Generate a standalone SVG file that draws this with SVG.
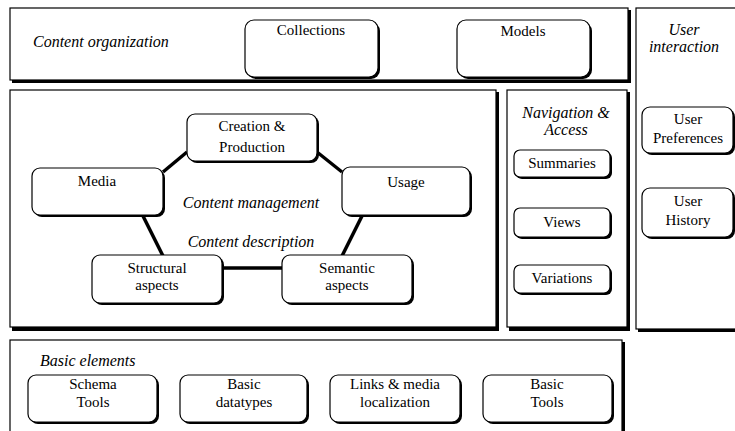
<svg xmlns="http://www.w3.org/2000/svg" width="735" height="431" viewBox="0 0 735 431">
<style>
.panel{fill:#fff;stroke:#000;stroke-width:1.2}
.psh{fill:#000}
.node{fill:#fff;stroke:#000;stroke-width:1.2}
.sh{fill:#000}
text{font-family:"Liberation Serif","Times New Roman",serif;font-size:15px;fill:#000;text-anchor:middle}
.it{font-style:italic;font-size:16px}
.lt{text-anchor:start}
.conn line{stroke:#000;stroke-width:3.5}
</style>
<rect width="735" height="431" fill="#fff"/>
<!-- panels -->
<g id="panel-organization">
<rect class="psh" x="12" y="10" width="619" height="73"/>
<rect class="panel" x="10" y="8" width="618" height="72"/>
<text class="it lt" x="33" y="47">Content organization</text>
</g>
<g id="panel-user">
<rect class="psh" x="638" y="10" width="100" height="322"/>
<rect class="panel" x="636" y="8" width="102" height="321"/>
<text class="it" x="684" y="35">User</text>
<text class="it" x="684" y="52">interaction</text>
</g>
<g id="panel-management">
<rect class="psh" x="12" y="92" width="487" height="239"/>
<rect class="panel" x="10" y="90" width="486" height="237"/>
<text class="it" x="251" y="208">Content management</text>
<text class="it" x="251" y="247">Content description</text>
</g>
<g id="panel-navigation">
<rect class="psh" x="509" y="92" width="121" height="239"/>
<rect class="panel" x="507" y="90" width="120" height="237"/>
<text class="it" x="566" y="118">Navigation &amp;</text>
<text class="it" x="566" y="135">Access</text>
</g>
<g id="panel-basic">
<rect class="psh" x="12" y="342" width="613" height="95"/>
<rect class="panel" x="10" y="340" width="612" height="95"/>
<text class="it lt" x="40" y="366">Basic elements</text>
</g>
<!-- connectors -->
<g id="connectors" class="conn">
<line x1="187" y1="152" x2="163" y2="172"/>
<line x1="317" y1="152" x2="342" y2="172"/>
<line x1="143" y1="216" x2="163" y2="256"/>
<line x1="362" y1="216" x2="342" y2="256"/>
<line x1="222" y1="268" x2="282" y2="268"/>
</g>
<!-- nodes -->
<g id="collections">
<rect class="sh" x="247" y="22" width="133" height="57" rx="9"/>
<rect class="node" x="245" y="20" width="133" height="57" rx="9"/>
<text x="311" y="35">Collections</text>
</g>
<g id="models">
<rect class="sh" x="459" y="22" width="133" height="57" rx="9"/>
<rect class="node" x="457" y="20" width="133" height="57" rx="9"/>
<text x="523" y="36">Models</text>
</g>
<g id="creation">
<rect class="sh" x="189" y="116" width="130" height="47" rx="8"/>
<rect class="node" x="187" y="114" width="130" height="47" rx="8"/>
<text x="252" y="131">Creation &amp;</text>
<text x="252" y="152">Production</text>
</g>
<g id="media">
<rect class="sh" x="34" y="170" width="131" height="47" rx="8"/>
<rect class="node" x="32" y="168" width="131" height="47" rx="8"/>
<text x="97" y="186">Media</text>
</g>
<g id="usage">
<rect class="sh" x="344" y="169" width="128" height="48" rx="8"/>
<rect class="node" x="342" y="167" width="128" height="48" rx="8"/>
<text x="406" y="187">Usage</text>
</g>
<g id="structural">
<rect class="sh" x="94" y="257" width="130" height="48" rx="8"/>
<rect class="node" x="92" y="255" width="130" height="48" rx="8"/>
<text x="157" y="273">Structural</text>
<text x="157" y="290">aspects</text>
</g>
<g id="semantic">
<rect class="sh" x="284" y="257" width="130" height="48" rx="8"/>
<rect class="node" x="282" y="255" width="130" height="48" rx="8"/>
<text x="347" y="273">Semantic</text>
<text x="347" y="290">aspects</text>
</g>
<g id="summaries">
<rect class="sh" x="516" y="152" width="96" height="27" rx="6"/>
<rect class="node" x="514" y="150" width="96" height="27" rx="6"/>
<text x="562" y="168">Summaries</text>
</g>
<g id="views">
<rect class="sh" x="516" y="210" width="96" height="29" rx="6"/>
<rect class="node" x="514" y="208" width="96" height="29" rx="6"/>
<text x="562" y="227">Views</text>
</g>
<g id="variations">
<rect class="sh" x="516" y="267" width="96" height="28" rx="6"/>
<rect class="node" x="514" y="265" width="96" height="28" rx="6"/>
<text x="562" y="283">Variations</text>
</g>
<g id="user-preferences">
<rect class="sh" x="644" y="109" width="91" height="46" rx="8"/>
<rect class="node" x="642" y="107" width="91" height="46" rx="8"/>
<text x="688" y="124">User</text>
<text x="688" y="143">Preferences</text>
</g>
<g id="user-history">
<rect class="sh" x="644" y="190" width="91" height="49" rx="8"/>
<rect class="node" x="642" y="188" width="91" height="49" rx="8"/>
<text x="688" y="206">User</text>
<text x="688" y="225">History</text>
</g>
<g id="schema-tools">
<rect class="sh" x="30" y="377" width="129" height="47" rx="8"/>
<rect class="node" x="28" y="375" width="129" height="47" rx="8"/>
<text x="93" y="389">Schema</text>
<text x="93" y="407">Tools</text>
</g>
<g id="basic-datatypes">
<rect class="sh" x="182" y="377" width="127" height="47" rx="8"/>
<rect class="node" x="180" y="375" width="127" height="47" rx="8"/>
<text x="244" y="389">Basic</text>
<text x="244" y="407">datatypes</text>
</g>
<g id="links-media">
<rect class="sh" x="332" y="377" width="130" height="47" rx="8"/>
<rect class="node" x="330" y="375" width="130" height="47" rx="8"/>
<text x="395" y="389">Links &amp; media</text>
<text x="395" y="407">localization</text>
</g>
<g id="basic-tools">
<rect class="sh" x="485" y="377" width="129" height="47" rx="8"/>
<rect class="node" x="483" y="375" width="129" height="47" rx="8"/>
<text x="547" y="389">Basic</text>
<text x="547" y="407">Tools</text>
</g>
</svg>
